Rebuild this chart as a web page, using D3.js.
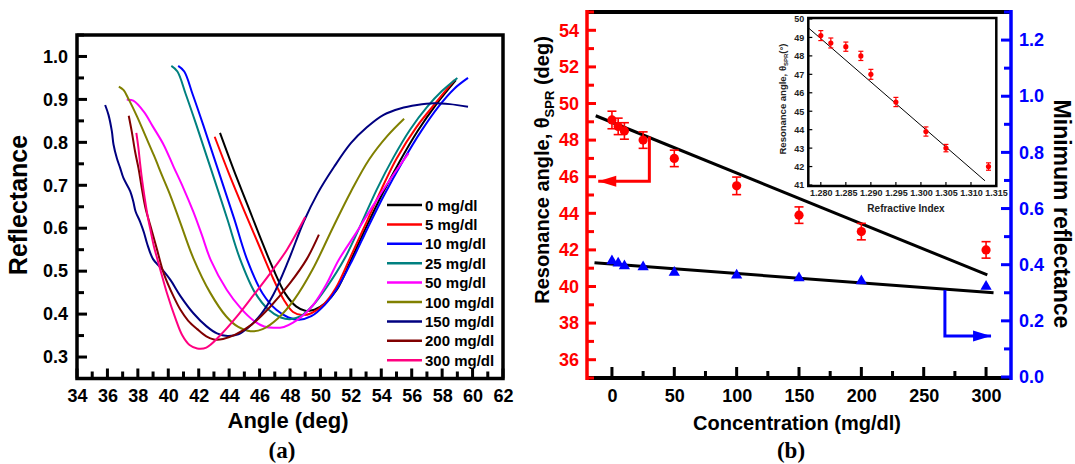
<!DOCTYPE html>
<html>
<head>
<meta charset="utf-8">
<script src="https://cdn.jsdelivr.net/npm/d3@7"></script>
<style>
    body { margin: 0; background: #fff; }
    svg text { font-family: "Liberation Sans", Arial, sans-serif; font-weight: bold; }
    .serif { font-family: "Liberation Serif", "Times New Roman", serif; }
</style>
</head>
<body>
<svg id="chart" width="1075" height="464"></svg>
<script>
// ---- data: panel (a), SPR curves [angle (deg), reflectance] ----
var curveLabels = ['0 mg/dl', '5 mg/dl', '10 mg/dl', '25 mg/dl', '50 mg/dl',
    '100 mg/dl', '150 mg/dl', '200 mg/dl', '300 mg/dl'];

var curve0 = [[43.4,0.822],[44.3,0.736],[45.2,0.655],[46.05,0.578],[46.9,0.505],[47.7,0.447],[48.4,0.418],
    [49.0,0.408],[49.6,0.41],[50.3,0.425],[51.1,0.458],[52.0,0.525],[53.0,0.602],[54.1,0.682],[55.2,0.755],
    [56.4,0.827],[57.6,0.888],[58.9,0.945]];
var curve5 = [[43.05,0.813],[44.0,0.726],[45.0,0.64],[45.9,0.565],[46.8,0.49],[47.6,0.433],[48.2,0.405],
    [48.8,0.398],[49.4,0.402],[50.2,0.422],[51.0,0.46],[52.0,0.535],[53.0,0.612],[54.0,0.69],[55.0,0.762],
    [56.3,0.835],[57.6,0.893],[58.8,0.945]];
var curve10 = [[40.65,0.978],[41.05,0.965],[41.6,0.912],[42.3,0.84],[43.0,0.765],[43.7,0.69],[44.35,0.62],
    [45.2,0.525],[46.2,0.448],[47.1,0.41],[47.9,0.392],[48.6,0.387],[49.4,0.395],[50.3,0.422],[51.1,0.46],
    [52.1,0.526],[53.1,0.6],[54.2,0.678],[55.4,0.755],[56.6,0.825],[57.8,0.885],[58.8,0.925],[59.7,0.95]];
var curve25 = [[40.2,0.978],[40.6,0.965],[41.15,0.912],[41.85,0.84],[42.55,0.765],[43.25,0.69],[43.9,0.619],
    [44.7,0.53],[45.7,0.45],[46.6,0.41],[47.4,0.392],[48.0,0.388],[48.7,0.395],[49.5,0.42],[50.4,0.462],
    [51.6,0.53],[52.7,0.612],[53.7,0.69],[54.8,0.765],[55.9,0.83],[57.0,0.882],[58.0,0.92],[59.0,0.95]];
var curve50 = [[37.27,0.899],[37.7,0.897],[38.4,0.871],[39.0,0.836],[39.7,0.794],[40.35,0.743],[41.0,0.693],
    [41.65,0.638],[42.2,0.585],[42.8,0.525],[43.85,0.456],[44.8,0.412],[45.6,0.385],[46.3,0.371],[46.9,0.368],
    [47.6,0.37],[48.2,0.38],[48.9,0.398],[49.6,0.425],[50.4,0.47],[51.2,0.526],[52.4,0.592],[53.5,0.655],
    [54.7,0.72],[55.8,0.775]];
var curve100 = [[36.75,0.93],[37.05,0.922],[37.4,0.9],[37.95,0.86],[38.5,0.815],[39.05,0.77],[39.6,0.722],
    [40.15,0.675],[40.8,0.612],[41.65,0.53],[42.75,0.45],[43.8,0.395],[44.6,0.37],[45.4,0.36],[46.2,0.365],
    [47.2,0.39],[48.3,0.435],[49.5,0.505],[50.8,0.6],[52.0,0.685],[53.2,0.76],[54.4,0.815],[55.5,0.855]];
var curve150 = [[35.85,0.887],[36.07,0.864],[36.29,0.826],[36.4,0.795],[36.62,0.763],[36.84,0.74],[37.05,0.717],
    [37.5,0.686],[37.7,0.662],[37.85,0.639],[38.15,0.615],[38.4,0.59],[38.6,0.565],[39.0,0.528],[39.5,0.508],
    [40.15,0.479],[40.8,0.442],[41.65,0.402],[42.5,0.372],[43.2,0.355],[43.9,0.349],[44.6,0.353],[45.3,0.37],
    [46.1,0.4],[46.9,0.445],[47.9,0.525],[48.9,0.615],[49.8,0.68],[50.9,0.743],[52.0,0.798],[53.05,0.835],
    [54.15,0.864],[55.25,0.879],[56.35,0.887],[57.45,0.891],[58.5,0.889],[59.7,0.883]];
var curve200 = [[37.4,0.862],[37.6,0.825],[37.82,0.778],[38.04,0.74],[38.26,0.693],[38.5,0.647],[38.83,0.605],
    [39.27,0.549],[39.7,0.495],[40.36,0.44],[40.8,0.41],[41.3,0.385],[41.9,0.365],[42.5,0.348],[43.0,0.341],
    [43.6,0.342],[44.4,0.352],[45.5,0.376],[46.7,0.417],[48.0,0.472],[49.1,0.528],[49.9,0.585]];
var curve300 = [[37.9,0.822],[38.04,0.786],[38.15,0.75],[38.28,0.712],[38.45,0.67],[38.65,0.627],[38.85,0.592],
    [39.04,0.56],[39.48,0.503],[39.92,0.448],[40.47,0.39],[40.9,0.352],[41.4,0.328],[41.9,0.32],[42.5,0.322],
    [43.4,0.35],[44.5,0.394],[45.6,0.444],[46.7,0.495],[47.8,0.55],[49.0,0.626]];

var angleTicks = [34, 36, 38, 40, 42, 44, 46, 48, 50, 52, 54, 56, 58, 60, 62];
var reflectanceTicks = [0.3, 0.4, 0.5, 0.6, 0.7, 0.8, 0.9, 1.0];

// ---- data: panel (b) ----
var concentrations = [0, 5, 10, 25, 50, 100, 150, 200, 300];
var resonanceAngle = [49.1, 48.75, 48.5, 48.0, 47.0, 45.5, 43.9, 43.0, 42.0];
var angleError = [0.48, 0.45, 0.45, 0.45, 0.45, 0.48, 0.45, 0.45, 0.45];
var minReflectance = [0.413, 0.405, 0.395, 0.392, 0.372, 0.362, 0.353, 0.342, 0.322];
// linear fits, drawn over [from, to]
var angleFit = { intercept: 48.97, slope: -0.0277, from: -13, to: 301 };
var reflectanceFit = { intercept: 0.402, slope: -0.000334, from: -14, to: 306 };
var concTicks = [0, 50, 100, 150, 200, 250, 300];
var angleAxisTicks = [36, 38, 40, 42, 44, 46, 48, 50, 52, 54];
var minReflTicks = [0.0, 0.2, 0.4, 0.6, 0.8, 1.0, 1.2];

// inset: resonance angle vs refractive index
var refractiveIndex = [1.280, 1.282, 1.285, 1.288, 1.290, 1.295, 1.301, 1.305, 1.3135];
var insetAngle = [49.1, 48.7, 48.5, 48.0, 47.0, 45.5, 43.9, 43.0, 42.0];
var insetError = [0.27, 0.27, 0.25, 0.25, 0.27, 0.25, 0.25, 0.2, 0.2];
var insetFit = { intercept: 49.5, slope: -235, x0: 1.2776, from: 1.2776, to: 1.3128 };
var riTicks = [1.280, 1.285, 1.290, 1.295, 1.300, 1.305, 1.310, 1.315];
var insetAngleTicks = [41, 42, 43, 44, 45, 46, 47, 48, 49, 50];

// ---- styles ----
var curveColors = ['#000000', '#ff0000', '#0000ff', '#008080', '#ff00ff',
    '#808000', '#000080', '#800000', '#ff0080'];
var RED = '#ff0000';
var BLUE = '#0000ff';

var svg = d3.select('#chart');

// axis used for labels only: no domain, no tick lines
function labelsOnly(g, size, color) {
    g.select('.domain').remove();
    g.selectAll('.tick line').remove();
    g.selectAll('.tick text').attr('font-size', size).attr('fill', color)
        .attr('font-family', '"Liberation Sans", Arial, sans-serif');
}

// inward tick marks drawn as small filled rects; side is 'bottom', 'left' or 'right'
function tickMarks(g, scale, values, side, at, len, color, width) {
    var sel = g.append('g').attr('fill', color).selectAll('rect')
        .data(values)
        .enter()
            .append('rect');
    if (side === 'bottom') {
        sel.attr('x', function (d) { return scale(d) - width / 2; })
            .attr('y', at - len)
            .attr('width', width).attr('height', len);
    } else {
        sel.attr('y', function (d) { return scale(d) - width / 2; })
            .attr('x', side === 'left' ? at : at - len)
            .attr('width', len).attr('height', width);
    }
}

// ================= panel (a) =================
var xA = d3.scaleLinear().domain([34, 62]).range([77, 503]);
var yA = d3.scaleLinear().domain([0.25, 1.05]).range([378.5, 35]);
var gA = svg.append('g');

var minorAngles = angleTicks.slice(0, -1).map(function (d) { return d + 1; });
var minorRefl = reflectanceTicks.map(function (d) { return d + 0.05; });

gA.append('g').attr('transform', 'translate(0,378.5)')
    .call(d3.axisBottom(xA).tickValues(angleTicks).tickSize(0).tickPadding(11).tickFormat(d3.format('d')))
    .call(labelsOnly, 18, '#000');
gA.append('g').attr('transform', 'translate(77,0)')
    .call(d3.axisLeft(yA).tickValues(reflectanceTicks).tickSize(0).tickPadding(9).tickFormat(d3.format('.1f')))
    .call(labelsOnly, 18, '#000');

var lineA = d3.line()
    .x(function (d) { return xA(d[0]); })
    .y(function (d) { return yA(d[1]); })
    .curve(d3.curveCatmullRom.alpha(0.5));

var curves = [curve0, curve5, curve10, curve25, curve50, curve100, curve150, curve200, curve300];
gA.selectAll('.curve')
    .data(curves)
    .enter()
        .append('path').classed('curve', true)
        .attr('d', lineA)
        .attr('fill', 'none')
        .attr('stroke', function (d, i) { return curveColors[i]; })
        .attr('stroke-width', 2);

// legend
var legend = gA.append('g');
curveLabels.forEach(function (label, i) {
    var y = 205 + i * 19.4;
    legend.append('line')
        .attr('x1', 387).attr('x2', 422).attr('y1', y).attr('y2', y)
        .attr('stroke', curveColors[i]).attr('stroke-width', 2.5);
    legend.append('text')
        .attr('x', 425).attr('y', y + 5.5)
        .attr('font-size', 15)
        .text(label);
});

gA.append('rect')
    .attr('x', 77).attr('y', 35).attr('width', 426).attr('height', 343.5)
    .attr('fill', 'none').attr('stroke', '#000').attr('stroke-width', 3.5);

tickMarks(gA, xA, minorAngles, 'bottom', 378.5, 7, '#000', 3);
tickMarks(gA, xA, angleTicks, 'bottom', 378.5, 10, '#000', 3);
tickMarks(gA, yA, minorRefl, 'left', 77, 7, '#000', 3);
tickMarks(gA, yA, reflectanceTicks, 'left', 77, 10, '#000', 3);

gA.append('text')
    .attr('transform', 'translate(27,205) rotate(-90)')
    .attr('text-anchor', 'middle').attr('font-size', 25)
    .text('Reflectance');
gA.append('text')
    .attr('x', 288).attr('y', 428)
    .attr('text-anchor', 'middle').attr('font-size', 22)
    .text('Angle (deg)');
gA.append('text').classed('serif', true)
    .attr('x', 282).attr('y', 458)
    .attr('text-anchor', 'middle').attr('font-size', 23)
    .text('(a)');

// ================= panel (b) =================
var xB = d3.scaleLinear().domain([-20, 320]).range([587, 1011]);
var yL = d3.scaleLinear().domain([35, 55]).range([378, 12]);
var yR = d3.scaleLinear().domain([0, 1.3]).range([377, 12]);
var gB = svg.append('g');

var minorConc = concTicks.slice(0, -1).map(function (d) { return d + 25; });
var minorAngleAxis = [35].concat(angleAxisTicks.map(function (d) { return d + 1; }));
var minorReflAxis = minReflTicks.map(function (d) { return d + 0.1; });

gB.append('g').attr('transform', 'translate(0,378)')
    .call(d3.axisBottom(xB).tickValues(concTicks).tickSize(0).tickPadding(11))
    .call(labelsOnly, 18, '#000');
gB.append('g').attr('transform', 'translate(587,0)')
    .call(d3.axisLeft(yL).tickValues(angleAxisTicks).tickSize(0).tickPadding(8))
    .call(labelsOnly, 18, RED);
gB.append('g').attr('transform', 'translate(1011,0)')
    .call(d3.axisRight(yR).tickValues(minReflTicks).tickSize(0).tickPadding(8).tickFormat(d3.format('.1f')))
    .call(labelsOnly, 18, BLUE);

// fits
function fitLine(fit, y) {
    return d3.line()
        .x(function (d) { return xB(d); })
        .y(function (d) { return y(fit.intercept + fit.slope * d); })([fit.from, fit.to]);
}
gB.append('path').attr('d', fitLine(angleFit, yL))
    .attr('stroke', '#000').attr('stroke-width', 3).attr('fill', 'none');
gB.append('path').attr('d', fitLine(reflectanceFit, yR))
    .attr('stroke', '#000').attr('stroke-width', 3).attr('fill', 'none');

// resonance angle points with error bars
var pts = concentrations.map(function (c, i) {
    return { c: c, a: resonanceAngle[i], e: angleError[i], r: minReflectance[i] };
});
var errG = gB.append('g').attr('stroke', RED).attr('stroke-width', 1.6);
pts.forEach(function (d) {
    var x = xB(d.c);
    errG.append('line').attr('x1', x).attr('x2', x)
        .attr('y1', yL(d.a - d.e)).attr('y2', yL(d.a + d.e));
    [d.a - d.e, d.a + d.e].forEach(function (v) {
        errG.append('line').attr('x1', x - 4.5).attr('x2', x + 4.5)
            .attr('y1', yL(v)).attr('y2', yL(v));
    });
});
gB.selectAll('.angle-pt')
    .data(pts)
    .enter()
        .append('circle').classed('angle-pt', true)
        .attr('cx', function (d) { return xB(d.c); })
        .attr('cy', function (d) { return yL(d.a); })
        .attr('r', 4.6)
        .attr('fill', RED);

gB.selectAll('.refl-pt')
    .data(pts)
    .enter()
        .append('path').classed('refl-pt', true)
        .attr('d', d3.symbol(d3.symbolTriangle, 55))
        .attr('transform', function (d) { return 'translate(' + xB(d.c) + ',' + yR(d.r) + ')'; })
        .attr('fill', BLUE);

// arrows pointing to the matching axis
function arrow(points, color, scaleY) {
    var p = points.map(function (d) { return [xB(d[0]), scaleY(d[1])]; });
    gB.append('path').attr('d', d3.line()(p))
        .attr('fill', 'none').attr('stroke', color).attr('stroke-width', 3);
    var tip = p[p.length - 1];
    var dir = tip[0] > p[p.length - 2][0] ? 1 : -1;
    gB.append('path')
        .attr('d', d3.line()([[tip[0], tip[1]], [tip[0] - dir * 18, tip[1] - 5.5], [tip[0] - dir * 18, tip[1] + 5.5]]) + 'Z')
        .attr('fill', color);
}
arrow([[30, 48.2], [30, 45.75], [-11, 45.75]], RED, yL);
arrow([[267, 0.31], [267, 0.146], [304, 0.146]], BLUE, yR);

// frame: black top/bottom, red left, blue right
gB.append('line').attr('x1', 587).attr('x2', 1011).attr('y1', 12).attr('y2', 12)
    .attr('stroke', '#000').attr('stroke-width', 4);
gB.append('line').attr('x1', 587).attr('x2', 1011).attr('y1', 378).attr('y2', 378)
    .attr('stroke', '#000').attr('stroke-width', 4);
gB.append('line').attr('x1', 587).attr('x2', 587).attr('y1', 10).attr('y2', 380)
    .attr('stroke', RED).attr('stroke-width', 3.5);
gB.append('line').attr('x1', 1011).attr('x2', 1011).attr('y1', 10).attr('y2', 380)
    .attr('stroke', BLUE).attr('stroke-width', 3.5);

tickMarks(gB, xB, minorConc, 'bottom', 378, 7, '#000', 3);
tickMarks(gB, xB, concTicks, 'bottom', 378, 11, '#000', 3);
tickMarks(gB, yL, minorAngleAxis, 'left', 587, 7, RED, 3);
tickMarks(gB, yL, angleAxisTicks, 'left', 587, 9, RED, 3);
tickMarks(gB, yR, minorReflAxis, 'right', 1011, 7, BLUE, 3);
tickMarks(gB, yR, minReflTicks, 'right', 1011, 10, BLUE, 3);

// axis titles
var leftTitle = gB.append('text')
    .attr('transform', 'translate(549,170) rotate(-90)')
    .attr('text-anchor', 'middle').attr('font-size', 20);
leftTitle.append('tspan').text('Resonance angle, \u03b8');
leftTitle.append('tspan').attr('font-size', 13).attr('dy', 5).text('SPR');
leftTitle.append('tspan').attr('dy', -5).text(' (deg)');

gB.append('text')
    .attr('transform', 'translate(1054,214) rotate(90)')
    .attr('text-anchor', 'middle').attr('font-size', 23)
    .text('Minimum reflectance');
gB.append('text')
    .attr('x', 797).attr('y', 430)
    .attr('text-anchor', 'middle').attr('font-size', 20)
    .text('Concentration (mg/dl)');
gB.append('text').classed('serif', true)
    .attr('x', 791).attr('y', 458)
    .attr('text-anchor', 'middle').attr('font-size', 23)
    .text('(b)');

// ================= inset =================
var xI = d3.scaleLinear().domain([1.2775, 1.315]).range([808.3, 996]);
var yI = d3.scaleLinear().domain([41, 50]).range([185, 19]);
var gI = svg.append('g');

gI.append('rect')
    .attr('x', 808.3).attr('y', 18).attr('width', 188).attr('height', 168)
    .attr('fill', '#fff');

function insetLabels(g) {
    g.select('.domain').remove();
    g.selectAll('.tick line').remove();
    g.selectAll('.tick text').attr('font-size', 9).attr('fill', '#222')
        .attr('font-weight', 'normal');
}
gI.append('g').attr('transform', 'translate(0,186)')
    .call(d3.axisBottom(xI).tickValues(riTicks).tickSize(0).tickPadding(4).tickFormat(d3.format('.3f')))
    .call(insetLabels);
gI.append('g').attr('transform', 'translate(808.3,0)')
    .call(d3.axisLeft(yI).tickValues(insetAngleTicks).tickSize(0).tickPadding(4))
    .call(insetLabels);

gI.append('path')
    .attr('d', d3.line()
        .x(function (d) { return xI(d); })
        .y(function (d) { return yI(insetFit.intercept + insetFit.slope * (d - insetFit.x0)); })
        ([insetFit.from, insetFit.to]))
    .attr('stroke', '#000').attr('stroke-width', 1).attr('fill', 'none');

var insetPts = refractiveIndex.map(function (n, i) {
    return { n: n, a: insetAngle[i], e: insetError[i] };
});
var insetErr = gI.append('g').attr('stroke', RED).attr('stroke-width', 1.2);
insetPts.forEach(function (d) {
    var x = xI(d.n);
    insetErr.append('line').attr('x1', x).attr('x2', x)
        .attr('y1', yI(d.a - d.e)).attr('y2', yI(d.a + d.e));
    [d.a - d.e, d.a + d.e].forEach(function (v) {
        insetErr.append('line').attr('x1', x - 2.5).attr('x2', x + 2.5)
            .attr('y1', yI(v)).attr('y2', yI(v));
    });
});
gI.selectAll('.inset-pt')
    .data(insetPts)
    .enter()
        .append('circle').classed('inset-pt', true)
        .attr('cx', function (d) { return xI(d.n); })
        .attr('cy', function (d) { return yI(d.a); })
        .attr('r', 2.6)
        .attr('fill', RED);

gI.append('rect')
    .attr('x', 808.3).attr('y', 18).attr('width', 188).attr('height', 168)
    .attr('fill', 'none').attr('stroke', '#000').attr('stroke-width', 2.5);
tickMarks(gI, xI, riTicks, 'bottom', 186, 4, '#000', 1.2);
tickMarks(gI, yI, insetAngleTicks, 'left', 808.3, 4, '#000', 1.2);

var insetTitle = gI.append('text')
    .attr('transform', 'translate(786,99) rotate(-90)')
    .attr('text-anchor', 'middle').attr('font-size', 9.5)
    .attr('font-weight', 'normal').attr('fill', '#222');
insetTitle.append('tspan').text('Resonance angle, \u03b8');
insetTitle.append('tspan').attr('font-size', 6).attr('dy', 2).text('SPR');
insetTitle.append('tspan').attr('dy', -2).text('(\u00b0)');
gI.append('text')
    .attr('x', 906).attr('y', 212)
    .attr('text-anchor', 'middle').attr('font-size', 10)
    .attr('font-weight', 'normal').attr('fill', '#222')
    .text('Refractive Index');
</script>
</body>
</html>
